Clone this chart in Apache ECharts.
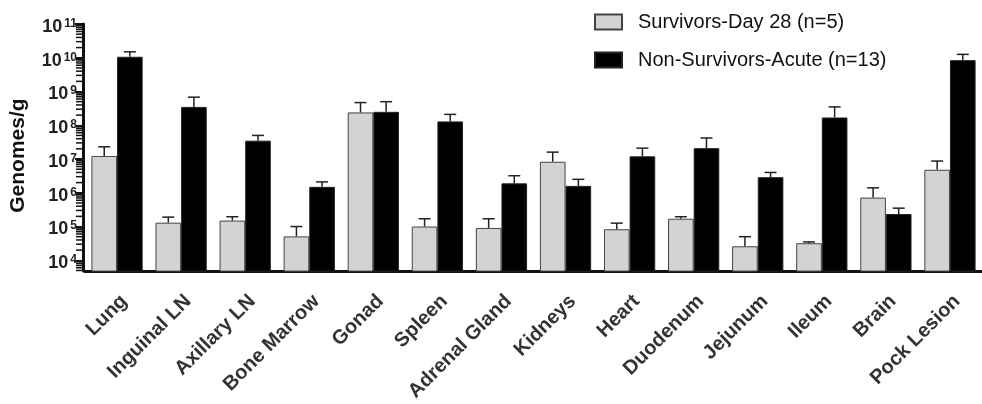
<!DOCTYPE html>
<html>
<head>
<meta charset="utf-8">
<script src="https://cdn.jsdelivr.net/npm/echarts@6/dist/echarts.min.js"></script>
<style>html,body{margin:0;padding:0;background:#fff}#c{width:982px;height:404px}</style>
</head>
<body>
<div id="c"></div>
<script>
const categories = ['Lung','Inguinal LN','Axillary LN','Bone Marrow','Gonad','Spleen','Adrenal Gland','Kidneys','Heart','Duodenum','Jejunum','Ileum','Brain','Pock Lesion'];
const seriesNames = ['Survivors-Day 28 (n=5)', 'Non-Survivors-Acute (n=13)'];
const survivors      = [1.23e7, 1.3e5, 1.5e5, 5.1e4, 2.4e8, 1.0e5, 9.1e4, 8.3e6, 8.3e4, 1.7e5, 2.6e4, 3.2e4, 7.2e5, 4.8e6];
const survivorsUpper = [2.3e7, 1.9e5, 1.95e5, 1.0e5, 4.7e8, 1.7e5, 1.7e5, 1.6e7, 1.26e5, 1.95e5, 5.0e4, 3.5e4, 1.4e6, 8.7e6];
const nonSurvivors      = [1.07e10, 3.5e8, 3.5e7, 1.5e6, 2.5e8, 1.3e8, 1.9e6, 1.6e6, 1.2e7, 2.1e7, 2.9e6, 1.7e8, 2.35e5, 8.5e9];
const nonSurvivorsUpper = [1.5e10, 6.8e8, 5.0e7, 2.1e6, 5.0e8, 2.1e8, 3.2e6, 2.5e6, 2.1e7, 4.2e7, 4.0e6, 3.5e8, 3.5e5, 1.26e10];
const majorTicks = [1e4, 1e5, 1e6, 1e7, 1e8, 1e9, 1e10, 1e11];
const minorTicks = [];
for (let e = 3; e <= 10; e++) for (let m = 2; m <= 9; m++) minorTicks.push(m * Math.pow(10, e));

const Y_MIN = Math.pow(10, 3.68), Y_MAX = 1e11;
const BAR_FRAC = 0.4;
const Y_OFFSET = 2;
const FONT = 'Liberation Sans, Arial, sans-serif';

function errSeries(name, vals, uppers, side) {
  return {
    type: 'custom',
    name: name,
    z: 5,
    silent: true,
    data: vals.map((v, i) => [i, v, uppers[i]]),
    renderItem: function (params, api) {
      const band = api.size([1, 0])[0];
      const off = side * band * BAR_FRAC / 2;
      const b = api.coord([api.value(0), api.value(1)]);
      const t = api.coord([api.value(0), api.value(2)]);
      const x = b[0] + off;
      const cap = 6;
      return {
        type: 'group',
        children: [
          { type: 'line', shape: { x1: x, y1: b[1], x2: x, y2: t[1] }, style: { stroke: '#222', lineWidth: 1.5 } },
          { type: 'line', shape: { x1: x - cap, y1: t[1], x2: x + cap, y2: t[1] }, style: { stroke: '#222', lineWidth: 1.5 } }
        ]
      };
    }
  };
}

const minorTickSeries = {
  type: 'custom',
  name: 'minorTicks',
  z: 6,
  silent: true,
  clip: false,
  data: minorTicks.filter(v => v >= Y_MIN && v <= Y_MAX).map(v => [0, v]),
  renderItem: function (params, api) {
    const p = api.coord([api.value(0), api.value(1)]);
    const band = api.size([1, 0])[0];
    const x0 = p[0] - band / 2 - Y_OFFSET - 1;
    return {
      type: 'line',
      shape: { x1: x0, y1: p[1], x2: x0 - 6, y2: p[1] },
      style: { stroke: '#111', lineWidth: 1.5 }
    };
  }
};

const chart = echarts.init(document.getElementById('c'), null, { renderer: 'canvas' });
chart.setOption({
  animation: false,
  backgroundColor: '#fff',
  grid: { left: 85, top: 24, width: 900, height: 251, containLabel: false },
  legend: {
    orient: 'vertical',
    left: 594, top: 11,
    padding: 0,
    icon: 'rect',
    itemWidth: 27, itemHeight: 15,
    itemGap: 16,
    data: seriesNames,
    textStyle: { fontFamily: FONT, fontSize: 20, color: '#111', lineHeight: 22, padding: [0, 0, 0, 11] }
  },
  xAxis: {
    type: 'category',
    data: categories,
    axisLine: { lineStyle: { color: '#111', width: 3 } },
    axisTick: { alignWithLabel: true, length: 9, lineStyle: { color: '#111', width: 2 } },
    axisLabel: {
      rotate: 45, margin: 20, interval: 0, verticalAlign: 'top',
      fontFamily: FONT, fontWeight: 'bold', fontSize: 20, color: '#333'
    }
  },
  yAxis: {
    type: 'log',
    min: Y_MIN, max: Y_MAX,
    offset: Y_OFFSET,
    name: 'Genomes/g',
    nameLocation: 'middle', nameRotate: 90, nameGap: 54,
    nameTextStyle: { fontFamily: FONT, fontWeight: 'bold', fontSize: 21, color: '#111', padding: [0, 16, 0, 0] },
    axisLine: { show: true, lineStyle: { color: '#111', width: 3 } },
    axisTick: { show: true, length: 8, customValues: majorTicks, lineStyle: { color: '#111', width: 2 } },
    splitLine: { show: false },
    minorTick: { show: false },
    axisLabel: {
      customValues: majorTicks,
      margin: 6,
      padding: [6, 0, 0, 0],
      formatter: function (v) { return '{b|10}{s|' + Math.round(Math.log10(v)) + '}'; },
      rich: {
        b: { fontFamily: FONT, fontWeight: 'bold', fontSize: 18, color: '#222', lineHeight: 19 },
        s: { fontFamily: FONT, fontWeight: 'bold', fontSize: 12, color: '#222', verticalAlign: 'top', lineHeight: 19, padding: [0, 0, 0, 2] }
      }
    }
  },
  series: [
    {
      type: 'bar', name: seriesNames[0], data: survivors,
      barWidth: (BAR_FRAC * 100) + '%', barGap: '0%',
      itemStyle: { color: '#d3d3d3', borderColor: '#444', borderWidth: 1 }
    },
    {
      type: 'bar', name: seriesNames[1], data: nonSurvivors,
      barWidth: (BAR_FRAC * 100) + '%', barGap: '0%',
      itemStyle: { color: '#000', borderColor: '#222', borderWidth: 1 }
    },
    errSeries(seriesNames[0], survivors, survivorsUpper, -1),
    errSeries(seriesNames[1], nonSurvivors, nonSurvivorsUpper, 1),
    minorTickSeries
  ]
});
</script>
</body>
</html>
